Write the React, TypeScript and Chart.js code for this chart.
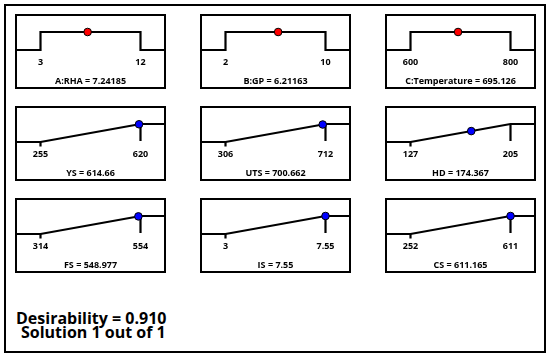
import React, { useEffect, useRef } from "react";
import { Chart, registerables } from "chart.js";

Chart.register(...registerables);
Chart.defaults.font.family = "'Open Sans', 'DejaVu Sans', sans-serif";

// ---- Data ----
const factorNames = ["A:RHA", "B:GP", "C:Temperature"];
const factorLow = [3, 2, 600];
const factorHigh = [12, 10, 800];
const factorValues = [7.24185, 6.21163, 695.126];
const factorValueLabels = ["7.24185", "6.21163", "695.126"];
const factorLowLabels = ["3", "2", "600"];
const factorHighLabels = ["12", "10", "800"];

const responseNames = ["YS", "UTS", "HD", "FS", "IS", "CS"];
const responseLow = [255, 306, 127, 314, 3, 252];
const responseHigh = [620, 712, 205, 554, 7.55, 611];
const responseLowLabels = ["255", "306", "127", "314", "3", "252"];
const responseHighLabels = ["620", "712", "205", "554", "7.55", "611"];
const responseValues = [614.66, 700.662, 174.367, 548.977, 7.55, 611.165];
const responseValueLabels = ["614.66", "700.662", "174.367", "548.977", "7.55", "611.165"];
const responseDesirability = [0.985, 0.972, 0.607, 0.979, 1, 1];

const overallDesirability = "0.910";
const solutionText = "Solution 1 out of 1";

// ---- Layout constants ----
const BOX_W = 151;
const BOX_H = 75;
const BORDER = 2;
const COL_X = [15, 200, 385];
const ROW_Y = [14, 106, 198];
const PAD_FRAC = 0.235;

type PanelProps = {
  kind: "range" | "max";
  lo: number;
  hi: number;
  loLabel: string;
  hiLabel: string;
  value: number;
  d: number;
  title: string;
  color: string;
};

function Panel(props: PanelProps) {
  const ref = useRef<HTMLCanvasElement | null>(null);
  useEffect(() => {
    if (!ref.current) return;
    const { kind, lo, hi, loLabel, hiLabel, value, d, title, color } = props;
    const span = hi - lo;
    const xmin = lo - PAD_FRAC * span;
    const xmax = hi + PAD_FRAC * span;
    const lineData =
      kind === "range"
        ? [
            { x: xmin, y: 0 },
            { x: lo, y: 0 },
            { x: lo, y: 1 },
            { x: hi, y: 1 },
            { x: hi, y: 0 },
            { x: xmax, y: 0 },
          ]
        : [
            { x: xmin, y: 0 },
            { x: lo, y: 0 },
            { x: hi, y: 1 },
            { x: xmax, y: 1 },
          ];
    const lineStyle = {
      showLine: true,
      borderColor: "#000",
      borderWidth: 2.2,
      pointRadius: 0,
      pointHoverRadius: 0,
      fill: false,
      tension: 0,
      order: 2,
    };
    const datasets: any[] = [{ ...lineStyle, data: lineData }];
    if (kind === "max") {
      datasets.push({ ...lineStyle, data: [{ x: lo, y: 0 }, { x: lo, y: -0.25 }] });
      datasets.push({ ...lineStyle, data: [{ x: hi, y: 1 }, { x: hi, y: 0.05 }] });
    }
    datasets.push({
      data: [{ x: value, y: d }],
      showLine: false,
      pointRadius: 3.8,
      pointBackgroundColor: color,
      pointBorderColor: "#000",
      pointBorderWidth: 1,
      order: 0,
    });

    const chart = new Chart(ref.current, {
      type: "scatter",
      data: { datasets },
      options: {
        animation: false,
        responsive: true,
        maintainAspectRatio: false,
        layout: { padding: 0, autoPadding: false },
        plugins: { legend: { display: false }, tooltip: { enabled: false }, title: { display: false } },
        events: [],
        scales: {
          y: { display: false, min: -0.333, max: 1.889 },
          x: {
            type: "linear",
            min: xmin,
            max: xmax,
            grid: { display: false, drawTicks: false },
            border: { display: false },
            afterBuildTicks: (scale: any) => {
              scale.ticks = [{ value: lo }, { value: hi }];
            },
            afterFit: (scale: any) => {
              scale.height = 31;
              scale.paddingLeft = 0;
              scale.paddingRight = 0;
            },
            ticks: {
              autoSkip: false,
              maxRotation: 0,
              padding: 1,
              color: "#000",
              font: { size: 9, weight: "bold" },
              callback: (v: any) => (v === lo ? loLabel : v === hi ? hiLabel : ""),
            },
            title: {
              display: true,
              text: title,
              color: "#000",
              font: { size: 9, weight: "bold" },
              padding: 0,
            },
          },
        },
      } as any,
    });
    return () => chart.destroy();
  }, []);
  return (
    <div style={{ position: "relative", width: BOX_W - 2 * BORDER, height: BOX_H - 2 * BORDER }}>
      <canvas ref={ref} />
    </div>
  );
}

function Box(props: { left: number; top: number; children: any }) {
  return (
    <div
      style={{
        position: "absolute",
        left: props.left,
        top: props.top,
        width: BOX_W,
        height: BOX_H,
        border: `${BORDER}px solid #000`,
        boxSizing: "border-box",
        background: "#fff",
      }}
    >
      {props.children}
    </div>
  );
}

export default function App() {
  const panels: any[] = [];
  factorNames.forEach((name, i) => {
    panels.push(
      <Box key={"f" + i} left={COL_X[i]} top={ROW_Y[0]}>
        <Panel
          kind="range"
          lo={factorLow[i]}
          hi={factorHigh[i]}
          loLabel={factorLowLabels[i]}
          hiLabel={factorHighLabels[i]}
          value={factorValues[i]}
          d={1}
          title={`${name} = ${factorValueLabels[i]}`}
          color="#ff0000"
        />
      </Box>
    );
  });
  responseNames.forEach((name, i) => {
    const row = 1 + Math.floor(i / 3);
    const col = i % 3;
    panels.push(
      <Box key={"r" + i} left={COL_X[col]} top={ROW_Y[row]}>
        <Panel
          kind="max"
          lo={responseLow[i]}
          hi={responseHigh[i]}
          loLabel={responseLowLabels[i]}
          hiLabel={responseHighLabels[i]}
          value={responseValues[i]}
          d={responseDesirability[i]}
          title={`${name} = ${responseValueLabels[i]}`}
          color="#0000ff"
        />
      </Box>
    );
  });
  const textStyle: any = {
    position: "absolute",
    fontFamily: "'Open Sans', sans-serif",
    fontWeight: "bold",
    fontSize: 16,
    lineHeight: "20px",
    color: "#000",
    whiteSpace: "nowrap",
  };
  return (
    <div style={{ position: "fixed", left: 0, top: 0, width: 550, height: 359, background: "#fff" }}>
      <div
        style={{
          position: "absolute",
          left: 4,
          top: 4,
          width: 542,
          height: 349,
          border: "2px solid #000",
          boxSizing: "border-box",
        }}
      />
      {panels}
      <div style={{ ...textStyle, left: 16, top: 308 }}>Desirability = {overallDesirability}</div>
      <div style={{ ...textStyle, left: 21, top: 322 }}>{solutionText}</div>
    </div>
  );
}
